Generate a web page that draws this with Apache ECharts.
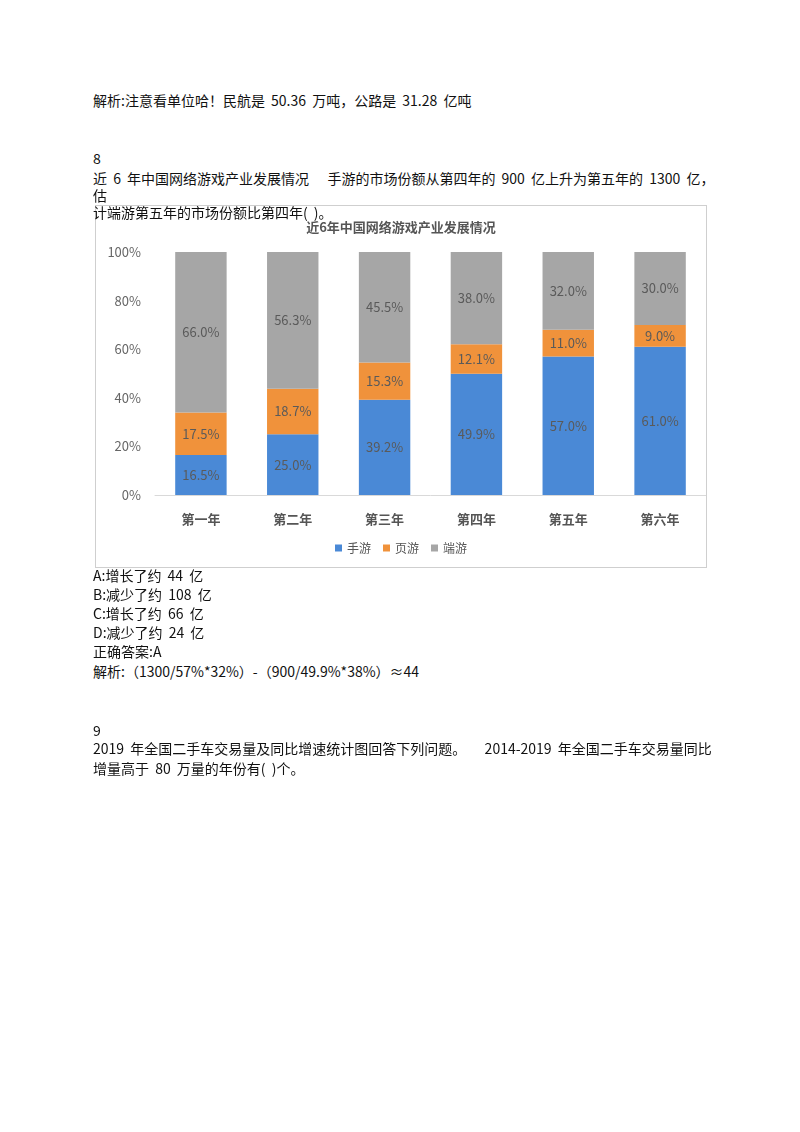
<!DOCTYPE html>
<html>
<head>
<meta charset="utf-8">
<title>近6年中国网络游戏产业发展情况</title>
<script src="https://cdn.jsdelivr.net/npm/echarts@6/dist/echarts.min.js"></script>
<style>
  body { margin:0; background:#fff; font-family:"Noto Sans CJK SC","Noto Sans",sans-serif; font-size:14px; color:#111; }
  .t { position:absolute; left:93px; white-space:nowrap; line-height:16px; z-index:2; word-spacing:3px; }
  #main { position:absolute; left:95px; top:205px; width:610px; height:361px; border:1px solid #cfcfcf; z-index:1; }
</style>
</head>
<body>
<div class="t" style="top:92px">解析:注意看单位哈！民航是 50.36 万吨，公路是 31.28 亿吨</div>
<div class="t" style="top:150px">8</div>
<div class="t" style="top:170px">近 6 年中国网络游戏产业发展情况&nbsp;&nbsp; 手游的市场份额从第四年的 900 亿上升为第五年的 1300 亿，</div>
<div class="t" style="top:187px">估</div>
<div class="t" style="top:204px">计端游第五年的市场份额比第四年(&nbsp;)。</div>
<div id="main"></div>
<div class="t" style="top:567px">A:增长了约 44 亿</div>
<div class="t" style="top:586px">B:减少了约 108 亿</div>
<div class="t" style="top:605px">C:增长了约 66 亿</div>
<div class="t" style="top:624px">D:减少了约 24 亿</div>
<div class="t" style="top:643px">正确答案:A</div>
<div class="t" style="top:663px">解析:（1300/57%*32%）-（900/49.9%*38%）≈44</div>
<div class="t" style="top:722px">9</div>
<div class="t" style="top:740px">2019 年全国二手车交易量及同比增速统计图回答下列问题。&nbsp;&nbsp; 2014-2019 年全国二手车交易量同比</div>
<div class="t" style="top:760px">增量高于 80 万量的年份有(&nbsp;)个。</div>
<script>
var years = ['第一年', '第二年', '第三年', '第四年', '第五年', '第六年'];
var mobile = [16.5, 25.0, 39.2, 49.9, 57.0, 61.0];
var web = [17.5, 18.7, 15.3, 12.1, 11.0, 9.0];
var client = [66.0, 56.3, 45.5, 38.0, 32.0, 30.0];

var chart = echarts.init(document.getElementById('main'));
function s(name, data, color) {
  return {
    name: name, type: 'bar', stack: 'a', data: data, barWidth: '56%',
    itemStyle: { color: color },
    label: { show: true, color: '#5a5a5a', fontSize: 13, formatter: function (p) { return p.value.toFixed(1) + '%'; } }
  };
}
chart.setOption({
  animation: false,
  textStyle: { fontFamily: 'Noto Sans CJK SC' },
  title: { text: '近6年中国网络游戏产业发展情况', left: 'center', top: 10,
    textStyle: { fontSize: 13, fontWeight: 'bold', color: '#555' } },
  grid: { left: 59, top: 46, right: 0, height: 243 },
  legend: { bottom: 8, itemWidth: 7, itemHeight: 7, itemGap: 12, icon: 'rect',
    textStyle: { fontSize: 12, color: '#555' } },
  xAxis: { type: 'category', data: years,
    axisLine: { lineStyle: { color: '#d9d9d9' } }, axisTick: { show: false },
    axisLabel: { fontSize: 13, color: '#555', margin: 18, fontWeight: 'bold' } },
  yAxis: { type: 'value', min: 0, max: 100, interval: 20,
    splitLine: { show: false },
    axisLabel: { fontSize: 13, color: '#666', margin: 14, formatter: '{value}%' } },
  series: [s('手游', mobile, '#4a89d6'), s('页游', web, '#f0923b'), s('端游', client, '#a6a6a6')]
});
</script>
</body>
</html>
